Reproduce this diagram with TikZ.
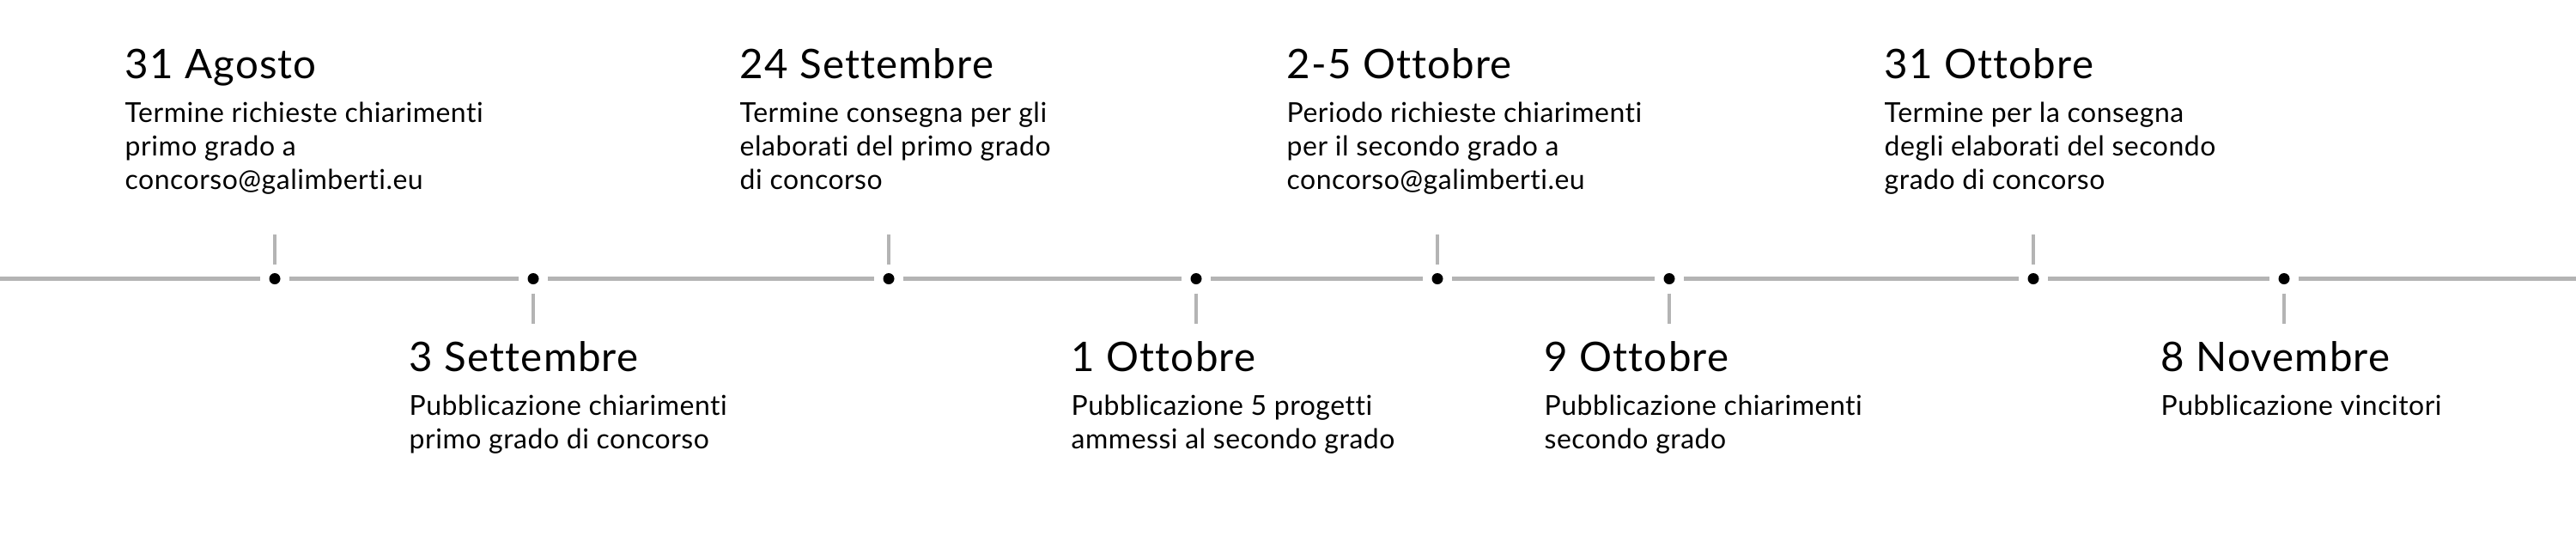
\documentclass[tikz,border=0pt]{standalone}
\usepackage{fontspec}
\setmainfont{Lato}[Ligatures=NoCommon]
\usepackage{xcolor}
\usetikzlibrary{positioning}
\definecolor{line-grey}{HTML}{B4B4B4}
\tikzstyle{dot}       = [circle, fill=black, inner sep=0pt, minimum size=0.13cm, outer sep=0.105cm]
\tikzstyle{axis}      = [draw=line-grey, line width=1.35pt]
\tikzstyle{stem}      = [draw=line-grey, line width=1.25pt]
\tikzstyle{datetitle} = [anchor=base west, inner sep=0pt, font=\fontsize{13.5}{16}\selectfont\addfontfeatures{LetterSpace=2.5}]
\tikzstyle{datetext}  = [anchor=north west, inner sep=0pt, align=left, font=\fontsize{9.1}{11.1}\selectfont\addfontfeatures{LetterSpace=1.6}]

\begin{document}
\begin{tikzpicture}

    % ===============================
    % 1. TIMELINE DOTS
    % ===============================
    \useasboundingbox (0,0) rectangle (30,-6.51);

    \coordinate (lstart) at (0, -3.245);
    \coordinate (lend)   at (30, -3.245);

    \node[dot] (agosto31)    at (3.20, -3.245) {};
    \node[dot] (settembre3)  at (6.21, -3.245) {};
    \node[dot] (settembre24) at (10.35, -3.245) {};
    \node[dot] (ottobre1)    at (13.93, -3.245) {};
    \node[dot] (ottobre2_5)  at (16.74, -3.245) {};
    \node[dot] (ottobre9)    at (19.44, -3.245) {};
    \node[dot] (ottobre31)   at (23.68, -3.245) {};
    \node[dot] (novembre8)   at (26.60, -3.245) {};

    % ===============================
    % 2. EVENTS ABOVE THE LINE
    % ===============================
    \node[datetitle] (t_agosto31) at (1.45, -0.91) {31 Agosto};
    \node[datetext, below right=0.27cm and 0cm of t_agosto31.base west] (d_agosto31) {
        Termine richieste chiarimenti\\
        primo grado a\\
        concorso@galimberti.eu
    };

    \node[datetitle] (t_settembre24) at (8.61, -0.91) {24 Settembre};
    \node[datetext, below right=0.27cm and 0cm of t_settembre24.base west] (d_settembre24) {
        Termine consegna per gli\\
        elaborati del primo grado\\
        di concorso
    };

    \node[datetitle] (t_ottobre2_5) at (14.98, -0.91) {2-5 Ottobre};
    \node[datetext, below right=0.27cm and 0cm of t_ottobre2_5.base west] (d_ottobre2_5) {
        Periodo richieste chiarimenti\\
        per il secondo grado a\\
        concorso@galimberti.eu
    };

    \node[datetitle] (t_ottobre31) at (21.94, -0.91) {31 Ottobre};
    \node[datetext, below right=0.27cm and 0cm of t_ottobre31.base west] (d_ottobre31) {
        Termine per la consegna\\
        degli elaborati del secondo\\
        grado di concorso
    };

    % ===============================
    % 3. EVENTS BELOW THE LINE
    % ===============================
    \node[datetitle] (t_settembre3) at (4.76, -4.32) {3 Settembre};
    \node[datetext, below right=0.27cm and 0cm of t_settembre3.base west] (d_settembre3) {
        Pubblicazione chiarimenti\\
        primo grado di concorso
    };

    \node[datetitle] (t_ottobre1) at (12.47, -4.32) {1 Ottobre};
    \node[datetext, below right=0.27cm and 0cm of t_ottobre1.base west] (d_ottobre1) {
        Pubblicazione 5 progetti\\
        ammessi al secondo grado
    };

    \node[datetitle] (t_ottobre9) at (17.98, -4.32) {9 Ottobre};
    \node[datetext, below right=0.27cm and 0cm of t_ottobre9.base west] (d_ottobre9) {
        Pubblicazione chiarimenti\\
        secondo grado
    };

    \node[datetitle] (t_novembre8) at (25.16, -4.32) {8 Novembre};
    \node[datetext, below right=0.27cm and 0cm of t_novembre8.base west] (d_novembre8) {
        Pubblicazione vincitori
    };

    % ===============================
    % 4. CONNECTIONS
    % ===============================

    % Main line, broken at every dot
    \draw[axis] (lstart) -- (agosto31);
    \draw[axis] (agosto31) -- (settembre3);
    \draw[axis] (settembre3) -- (settembre24);
    \draw[axis] (settembre24) -- (ottobre1);
    \draw[axis] (ottobre1) -- (ottobre2_5);
    \draw[axis] (ottobre2_5) -- (ottobre9);
    \draw[axis] (ottobre9) -- (ottobre31);
    \draw[axis] (ottobre31) -- (novembre8);
    \draw[axis] (novembre8) -- (lend);

    % Stems up
    \draw[stem] (agosto31.north) -- ++(0, 0.35);
    \draw[stem] (settembre24.north) -- ++(0, 0.35);
    \draw[stem] (ottobre2_5.north) -- ++(0, 0.35);
    \draw[stem] (ottobre31.north) -- ++(0, 0.35);

    % Stems down
    \draw[stem] (settembre3.south) -- ++(0, -0.35);
    \draw[stem] (ottobre1.south) -- ++(0, -0.35);
    \draw[stem] (ottobre9.south) -- ++(0, -0.35);
    \draw[stem] (novembre8.south) -- ++(0, -0.35);

\end{tikzpicture}
\end{document}
